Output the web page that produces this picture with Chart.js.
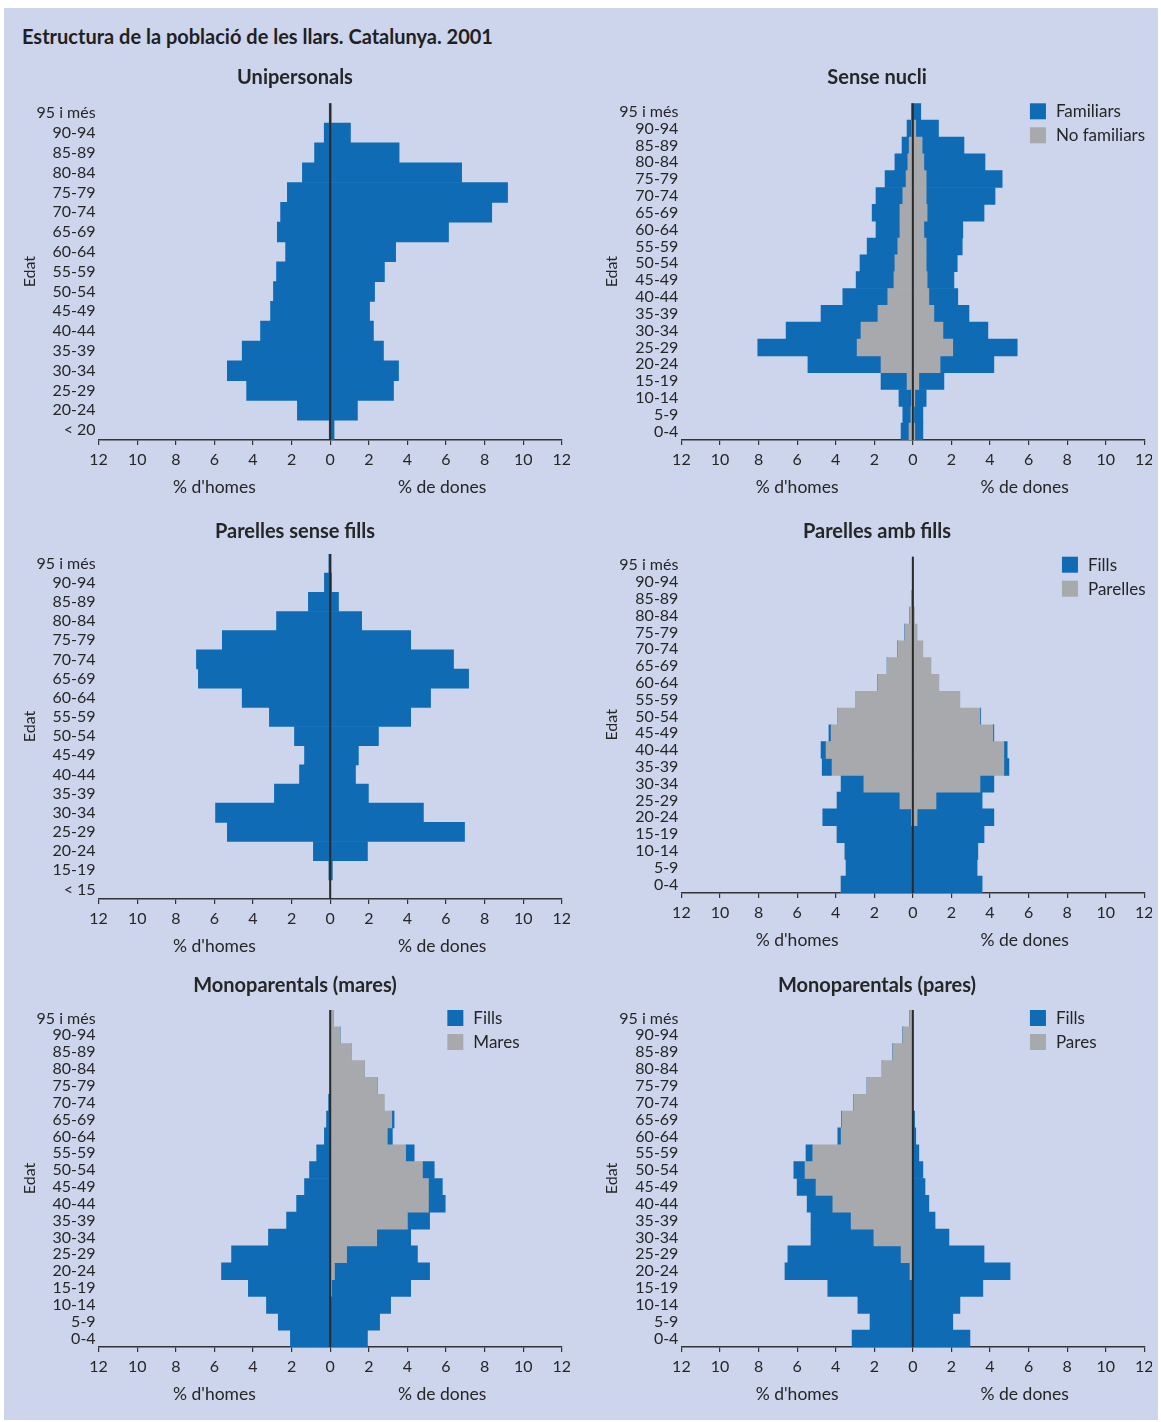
<!DOCTYPE html>
<html>
<head>
<meta charset="utf-8">
<title>Estructura de la població de les llars</title>
<script src="https://cdn.jsdelivr.net/npm/chart.js@4.4.1/dist/chart.umd.min.js"></script>
<style>
  body { margin: 0; background: #ffffff; font-family: Lato, sans-serif; }
  #page { position: absolute; left: 4px; top: 8px; width: 1154px; height: 1412px; background: #ccd5ec; }
  h1 { position: absolute; left: 22px; top: 25px; margin: 0; font-size: 20px; line-height: 22px; font-weight: bold; color: #231f20; }
  canvas { position: absolute; }
</style>
</head>
<body>
<div id="page"></div>
<h1>Estructura de la població de les llars. Catalunya. 2001</h1>
<canvas id="unipersonals" width="550" height="440" style="left:20px;top:60px"></canvas>
<canvas id="senseNucli" width="550" height="440" style="left:602px;top:60px"></canvas>
<canvas id="senseFills" width="550" height="445" style="left:20px;top:514px"></canvas>
<canvas id="ambFills" width="550" height="439" style="left:602px;top:514px"></canvas>
<canvas id="monoMares" width="550" height="439" style="left:20px;top:968px"></canvas>
<canvas id="monoPares" width="550" height="439" style="left:602px;top:968px"></canvas>
<script>
    "use strict";

    // age groups, top to bottom
    const edats = ['95 i més', '90-94', '85-89', '80-84', '75-79', '70-74', '65-69', '60-64', '55-59', '50-54',
        '45-49', '40-44', '35-39', '30-34', '25-29', '20-24', '15-19', '10-14', '5-9', '0-4'];
    const edatsUnipersonals = ['95 i més', '90-94', '85-89', '80-84', '75-79', '70-74', '65-69', '60-64', '55-59',
        '50-54', '45-49', '40-44', '35-39', '30-34', '25-29', '20-24', '< 20'];
    const edatsSenseFills = ['95 i més', '90-94', '85-89', '80-84', '75-79', '70-74', '65-69', '60-64', '55-59',
        '50-54', '45-49', '40-44', '35-39', '30-34', '25-29', '20-24', '15-19', '< 15'];
    const xTicks = [-12, -10, -8, -6, -4, -2, 0, 2, 4, 6, 8, 10, 12];

    // % of people, men (homes) and women (dones)
    const unipersonalsHomes = [0.05, 0.31, 0.81, 1.44, 2.22, 2.57, 2.74, 2.31, 2.78, 2.94, 3.09, 3.61, 4.56, 5.33, 4.33, 1.70, 0.05];
    const unipersonalsDones = [0.05, 1.05, 3.57, 6.81, 9.19, 8.37, 6.13, 3.39, 2.81, 2.30, 2.04, 2.24, 2.76, 3.54, 3.28, 1.41, 0.20];

    const senseNucliFamiliarsHomes = [0.07, 0.25, 0.37, 0.67, 1.09, 1.39, 1.44, 1.24, 1.59, 1.81, 1.96, 2.33, 2.95, 3.88, 5.15, 3.79, 1.35, 0.65, 0.42, 0.41];
    const senseNucliNoFamiliarsHomes = [0, 0.05, 0.19, 0.26, 0.35, 0.52, 0.67, 0.67, 0.78, 0.93, 0.98, 1.30, 1.81, 2.69, 2.89, 1.65, 0.30, 0.07, 0.10, 0.20];
    const senseNucliFamiliarsDones = [0.41, 1.18, 2.17, 3.17, 3.94, 3.57, 2.95, 2.02, 1.87, 1.61, 1.39, 1.50, 1.82, 2.33, 3.34, 2.79, 1.30, 0.59, 0.47, 0.42];
    const senseNucliNoFamiliarsDones = [0, 0.15, 0.48, 0.57, 0.69, 0.69, 0.74, 0.57, 0.69, 0.69, 0.74, 0.83, 1.09, 1.56, 2.07, 1.41, 0.31, 0.10, 0.05, 0.10];

    const senseFillsHomes = [0.07, 0.30, 1.13, 2.78, 5.59, 6.93, 6.83, 4.56, 3.15, 1.85, 1.33, 1.59, 2.89, 5.94, 5.33, 0.87, 0.07, 0];
    const senseFillsDones = [0.04, 0.07, 0.43, 1.63, 4.17, 6.39, 7.17, 5.20, 4.17, 2.50, 1.46, 1.31, 1.98, 4.83, 6.96, 1.93, 0.11, 0];

    const ambFillsParellesHomes = [0, 0, 0.07, 0.15, 0.41, 0.78, 1.33, 1.81, 2.94, 3.89, 4.24, 4.50, 4.19, 2.54, 0.67, 0.07, 0, 0, 0, 0];
    const ambFillsFillsHomes = [0, 0, 0, 0, 0, 0, 0, 0, 0, 0, 0.11, 0.26, 0.51, 1.18, 3.26, 4.60, 3.93, 3.52, 3.46, 3.72];
    const ambFillsParellesDones = [0, 0, 0.02, 0.09, 0.22, 0.52, 0.94, 1.35, 2.44, 3.48, 4.15, 4.72, 4.72, 3.48, 1.20, 0.22, 0, 0, 0, 0];
    const ambFillsFillsDones = [0, 0, 0, 0, 0, 0, 0, 0, 0, 0.04, 0.05, 0.17, 0.26, 0.72, 2.39, 3.98, 3.69, 3.37, 3.33, 3.59];

    const maresFillsHomes = [0, 0, 0, 0, 0, 0.07, 0.19, 0.30, 0.70, 1.07, 1.33, 1.74, 2.26, 3.20, 5.11, 5.63, 4.24, 3.30, 2.69, 2.06];
    const maresMares = [0.15, 0.52, 1.11, 1.78, 2.44, 2.81, 3.19, 2.96, 3.91, 4.78, 5.09, 5.09, 4.00, 2.41, 0.85, 0.22, 0.07, 0, 0, 0];
    const maresFillsDones = [0, 0, 0, 0, 0, 0, 0.12, 0.26, 0.44, 0.61, 0.72, 0.87, 1.15, 1.76, 3.67, 4.93, 4.10, 3.13, 2.56, 1.93];

    const paresPares = [0.15, 0.52, 1.04, 1.59, 2.37, 3.06, 3.67, 3.72, 5.19, 5.59, 5.02, 4.15, 3.20, 2.02, 0.61, 0.15, 0, 0, 0, 0];
    const paresFillsHomes = [0, 0, 0, 0, 0, 0, 0.03, 0.17, 0.35, 0.58, 0.98, 1.33, 2.08, 3.26, 5.87, 6.48, 4.41, 2.85, 2.22, 3.15];
    const paresFillsDones = [0, 0, 0, 0, 0, 0, 0.09, 0.15, 0.31, 0.52, 0.63, 0.83, 1.15, 1.87, 3.69, 5.04, 3.63, 2.44, 2.07, 2.96];

    const BLUE = '#0e6bb4';
    const GREY = '#a7a9ac';
    const TEXT = '#262626';
    const FONT = 'Lato, sans-serif';

    function neg(arr) {
        return arr.map(v => -v);
    }

    function bars(label, data, color) {
        return {
            label: label,
            data: data,
            backgroundColor: color,
            borderWidth: 0,
            barPercentage: 1,
            categoryPercentage: 1
        };
    }

    // zero line, "Edat", "% d'homes / % de dones" and the little legend
    const pyramidExtras = {
        id: 'pyramidExtras',
        afterDatasetsDraw(chart, args, opts) {
            const ctx = chart.ctx;
            const area = chart.chartArea;
            const x = chart.scales.x;
            const x0 = x.getPixelForValue(0);
            ctx.save();
            ctx.strokeStyle = '#2a2a2a';
            ctx.lineWidth = 2;
            ctx.beginPath();
            ctx.moveTo(x0, area.top);
            ctx.lineTo(x0, area.bottom);
            ctx.stroke();

            ctx.fillStyle = TEXT;
            ctx.textAlign = 'center';
            ctx.textBaseline = 'middle';

            ctx.save();
            ctx.font = '16px ' + FONT;
            ctx.translate(10, (area.top + area.bottom) / 2);
            ctx.rotate(-Math.PI / 2);
            ctx.fillText('Edat', 0, 0);
            ctx.restore();

            ctx.font = '17.5px ' + FONT;
            ctx.fillText("% d'homes", x.getPixelForValue(-6), area.bottom + 47);
            ctx.fillText('% de dones', x.getPixelForValue(5.8), area.bottom + 47);

            if (opts.legend) {
                const lx = x.getPixelForValue(opts.legendAt);
                ctx.textAlign = 'left';
                ctx.font = '17px ' + FONT;
                opts.legend.forEach((item, i) => {
                    const ly = area.top + i * 24;
                    ctx.fillStyle = item.color;
                    ctx.fillRect(lx, ly, 16, 16);
                    ctx.fillStyle = TEXT;
                    ctx.fillText(item.label, lx + 26, ly + 8.5);
                });
            }
            ctx.restore();
        }
    };

    function pyramid(id, title, labels, datasets, titleBottom, yWidth, sidePad, legend, legendAt) {
        return new Chart(document.getElementById(id), {
            type: 'bar',
            data: { labels: labels, datasets: datasets },
            plugins: [pyramidExtras],
            options: {
                indexAxis: 'y',
                responsive: false,
                animation: false,
                layout: { padding: { left: sidePad, right: sidePad, top: 0, bottom: 0 } },
                scales: {
                    x: {
                        type: 'linear',
                        min: -12,
                        max: 12,
                        stacked: true,
                        afterBuildTicks: s => { s.ticks = xTicks.map(v => ({ value: v })); },
                        afterFit: s => {
                            s.height = 60;
                            s.paddingLeft = 0;
                            s.paddingRight = 0;
                        },
                        ticks: {
                            callback: v => Math.abs(v),
                            color: TEXT,
                            font: { family: FONT, size: 16 },
                            padding: 5,
                            maxRotation: 0,
                            autoSkip: false
                        },
                        grid: {
                            display: true,
                            drawOnChartArea: false,
                            drawTicks: true,
                            tickLength: 5,
                            color: '#333333',
                            lineWidth: 1.2
                        },
                        border: { display: true, color: '#333333', width: 1.5 }
                    },
                    y: {
                        type: 'category',
                        stacked: true,
                        afterFit: s => { s.width = yWidth - sidePad; },
                        grid: { display: false, drawTicks: false },
                        border: { display: false },
                        ticks: {
                            color: TEXT,
                            font: { family: FONT, size: 16 },
                            padding: 3,
                            autoSkip: false
                        }
                    }
                },
                plugins: {
                    legend: { display: false },
                    tooltip: { enabled: false },
                    title: {
                        display: true,
                        text: title,
                        color: TEXT,
                        font: { family: FONT, size: 20, weight: 'bold', lineHeight: 1.1 },
                        padding: { top: 7, bottom: titleBottom }
                    },
                    pyramidExtras: { legend: legend, legendAt: legendAt }
                }
            }
        });
    }

    pyramid('unipersonals', 'Unipersonals', edatsUnipersonals, [
        bars('Homes', neg(unipersonalsHomes), BLUE),
        bars('Dones', unipersonalsDones, BLUE)
    ], 14.3, 78.6, 8.2);

    pyramid('senseNucli', 'Sense nucli', edats, [
        bars('No familiars', neg(senseNucliNoFamiliarsHomes), GREY),
        bars('Familiars', neg(senseNucliFamiliarsHomes), BLUE),
        bars('No familiars', senseNucliNoFamiliarsDones, GREY),
        bars('Familiars', senseNucliFamiliarsDones, BLUE)
    ], 14.3, 79.4, 7.7, [{ label: 'Familiars', color: BLUE }, { label: 'No familiars', color: GREY }], 6.07);

    pyramid('senseFills', 'Parelles sense fills', edatsSenseFills, [
        bars('Homes', neg(senseFillsHomes), BLUE),
        bars('Dones', senseFillsDones, BLUE)
    ], 11.0, 78.6, 8.2);

    pyramid('ambFills', 'Parelles amb fills', edats, [
        bars('Parelles', neg(ambFillsParellesHomes), GREY),
        bars('Fills', neg(ambFillsFillsHomes), BLUE),
        bars('Parelles', ambFillsParellesDones, GREY),
        bars('Fills', ambFillsFillsDones, BLUE)
    ], 13.7, 79.4, 7.7, [{ label: 'Fills', color: BLUE }, { label: 'Parelles', color: GREY }], 7.73);

    pyramid('monoMares', 'Monoparentals (mares)', edats, [
        bars('Fills', neg(maresFillsHomes), BLUE),
        bars('Mares', maresMares, GREY),
        bars('Fills', maresFillsDones, BLUE)
    ], 13.0, 78.6, 8.2, [{ label: 'Fills', color: BLUE }, { label: 'Mares', color: GREY }], 6.07);

    pyramid('monoPares', 'Monoparentals (pares)', edats, [
        bars('Pares', neg(paresPares), GREY),
        bars('Fills', neg(paresFillsHomes), BLUE),
        bars('Fills', paresFillsDones, BLUE)
    ], 13.0, 79.4, 7.7, [{ label: 'Fills', color: BLUE }, { label: 'Pares', color: GREY }], 6.07);
</script>
</body>
</html>
